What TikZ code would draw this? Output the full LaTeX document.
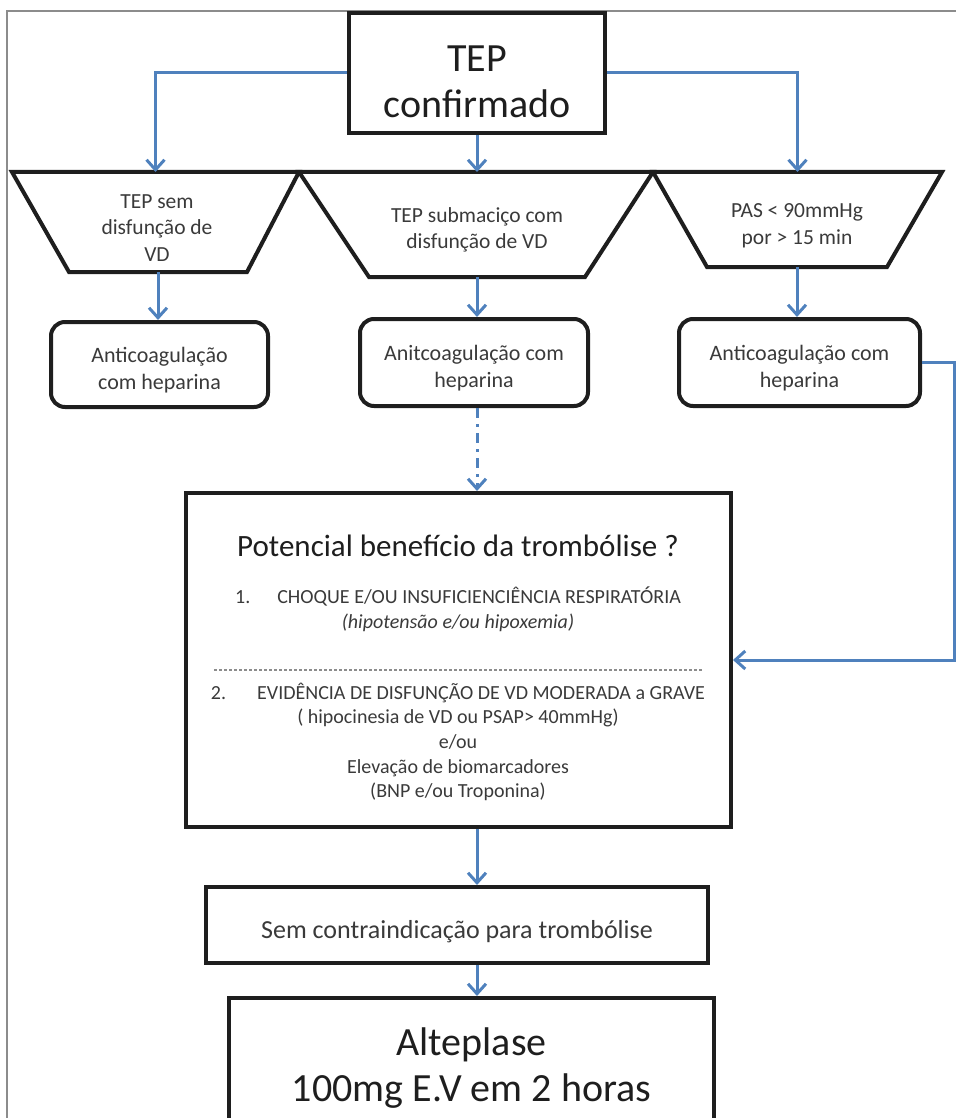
\documentclass[tikz,border=0pt]{standalone}
\usepackage{fontspec}
\setmainfont{Carlito}
\usetikzlibrary{arrows.meta, positioning}
\definecolor{flow}{HTML}{4F81BD}
\definecolor{ink}{HTML}{1E1E1E}
\definecolor{txt}{HTML}{3A3A3A}
\definecolor{rule}{HTML}{8C8C8C}

\begin{document}
\begin{tikzpicture}[x=0.5pt, y=-0.5pt,
  box/.style={draw=ink, line width=2pt, inner sep=0pt},
  big/.style={box, label={[align=center, text=ink, font=\fontsize{20}{23}\selectfont,
              yshift=#1]center:{\bigtext}}},
  trap/.style={draw=ink, line width=2pt, line join=miter},
  lbl/.style={align=center, text=txt, font=\fontsize{10.75}{13.3}\selectfont},
  rbox/.style={box, rounded corners=7pt, label={[lbl, font=\fontsize{11}{13.5}\selectfont,
               yshift=-2.9pt]center:{#1}}},
  note/.style={align=center, text=txt, font=\fontsize{10}{12.3}\selectfont},
  a/.style={-{Straight Barb[length=5pt, width=9pt]}, draw=flow, line width=1.5pt}]
\clip (0,0) rectangle (956,1118);
\draw[rule, line width=1pt] (7,1140) -- (7,11) -- (970,11);
\def\bigtext{TEP\\confirmado}
\node[big=-4.5pt, line width=2.4pt, minimum width=128pt, minimum height=60pt] (tep)
  at (477,73) {};
\draw[trap] (12,172) -- (299,172) -- (247,272) -- (69,272) -- cycle;
\draw[trap] (299,172) -- (653,172) -- (585,277) -- (369,277) -- cycle;
\draw[trap] (653,172) -- (942,172) -- (887,267) -- (707,267) -- cycle;
\coordinate (semT) at (155.5,172); \coordinate (semB) at (158,272);
\coordinate (subT) at (476,172);   \coordinate (subB) at (477,277);
\coordinate (pasT) at (797.5,172); \coordinate (pasB) at (797,267);
\node[lbl] (sem) at (157,228) {TEP sem\\disfunção de\\VD};
\node[lbl] (sub) at (477,230) {TEP submaciço com\\disfunção de VD};
\node[lbl] (pas) at (797,226) {PAS < 90mmHg\\por > 15 min};
\node[rbox={Anticoagulação\\com heparina}, minimum width=108.5pt, minimum height=42.5pt]
  (hep1) at (159.5,364.5) {};
\node[rbox={Anitcoagulação com\\heparina}, minimum width=114pt, minimum height=43.5pt]
  (hep2) at (474,362.5) {};
\node[rbox={Anticoagulação com\\heparina}, minimum width=120.5pt, minimum height=43.5pt]
  (hep3) at (799.5,362.5) {};
\node[box, minimum width=272.5pt, minimum height=167pt] (ben) at (458.5,660) {};
\node[text=ink, font=\fontsize{15.5}{18}\selectfont] (ask) at (458,546)
  {Potencial benefício da trombólise ?};
\node[note] (c1) at (458,609)
  {1.\hspace{13.5pt}CHOQUE E/OU INSUFICIENCIÊNCIA RESPIRATÓRIA\\
   \textit{(hipotensão e/ou hipoxemia)}};
\node[note] (c2) at (458,742)
  {2.\hspace{15.5pt}EVIDÊNCIA DE DISFUNÇÃO DE VD MODERADA a GRAVE\\
   ( hipocinesia de VD ou PSAP> 40mmHg)\\e/ou\\Elevação de biomarcadores\\
   (BNP e/ou Troponina)};
\draw[rule, line width=0.6pt, dash pattern=on 1.5pt off 1pt] (214,670) -- (703,670);
\node[box, minimum width=251pt, minimum height=38pt, label={[text=txt,
  font=\fontsize{13}{15}\selectfont, yshift=-3.5pt]center:Sem contraindicação para trombólise}]
  (ok) at (457,925) {};
\def\bigtext{Alteplase\\100mg E.V em 2 horas}
\node[big=-2pt, minimum width=242.5pt, minimum height=66.5pt] (alt) at (471.5,1064.5) {};
\draw[a] (tep.west) -| (semT);
\draw[a] (tep.south) -- (tep.south |- subT);
\draw[a] (tep.east) -| (pasT);
\draw[a] (semB) -- (semB |- hep1.north);
\draw[a] (subB) -- (subB |- hep2.north);
\draw[a] (pasB) -- (pasB |- hep3.north);
\draw[a, dash pattern=on 5pt off 3pt on 1.5pt off 3pt] (hep2.south -| tep.south)
  -- (ben.north -| tep.south);
\draw[a] (hep3.east) -- ++(32,0) |- (ben.east);
\draw[a] (ben.south -| tep.south) -- (ok.north -| tep.south);
\draw[a] (ok.south -| tep.south) -- (alt.north -| tep.south);
\end{tikzpicture}
\end{document}
